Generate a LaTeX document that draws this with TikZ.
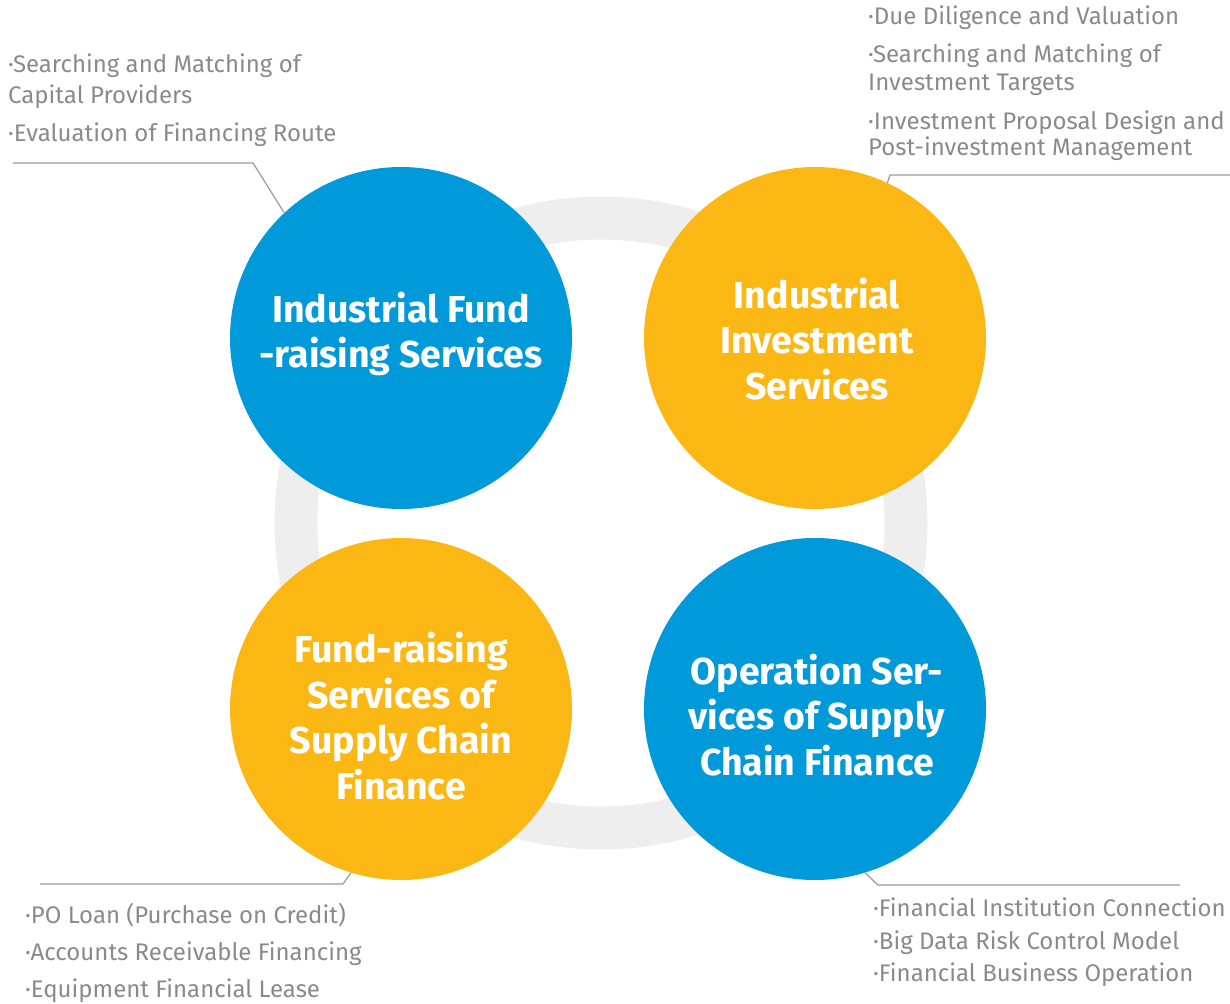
\documentclass[tikz,border=0pt]{standalone}
\usepackage{fontspec}
\setmainfont{Fira Sans}
\definecolor{cblue}{HTML}{0099D9}
\definecolor{cyellow}{HTML}{FBB815}
\definecolor{ring}{HTML}{EEEEEE}
\definecolor{txt}{HTML}{8A8A8E}
\definecolor{lead}{HTML}{9A9A9A}
\begin{document}
\begin{tikzpicture}[x=1pt,y=-1pt,
  bigc/.style={circle,minimum size=342pt,inner sep=0pt},
  ctext/.style={text=white,align=center,font=\fontsize{37.5}{45.5}\selectfont\bfseries},
  item/.style={anchor=base west,inner sep=0pt,text=txt,font=\fontsize{24}{28}\selectfont},
  leader/.style={draw=lead,line width=1.2pt}]
\useasboundingbox (0,0) rectangle (1230,1003);
% grey ring
\node[circle,draw=ring,line width=43pt,minimum size=610pt,inner sep=0pt] (ringc) at (601,523) {};
% circles
\node[bigc,fill=cblue] (fund) at (401,338) {};
\node[bigc,fill=cyellow] (invest) at (815,338) {};
\node[bigc,fill=cyellow] (scfund) at (401,709) {};
\node[bigc,fill=cblue] (scop) at (815,709) {};
% circle texts
\node[ctext] (fundt) at (401,334) {Industrial Fund\\-raising Services};
\node[ctext] (investt) at (817,339) {Industrial\\Investment\\Services};
\node[ctext] (scfundt) at (401,716) {Fund-raising\\Services of\\Supply Chain\\Finance};
\node[ctext] (scopt) at (817,715) {Operation Ser-\\vices of Supply\\Chain Finance};
% top-left items
\node[item] (a1) at (8,73) {·Searching and Matching of};
\node[item] (a2) at (8,104) {Capital Providers};
\node[item] (a3) at (8,142) {·Evaluation of Financing Route};
% top-right items
\node[item] (b1) at (868,25) {·Due Diligence and Valuation};
\node[item] (b2) at (868,63) {·Searching and Matching of};
\node[item] (b3) at (868,91) {Investment Targets};
\node[item] (b4) at (868,130) {·Investment Proposal Design and};
\node[item] (b5) at (868,156) {Post-investment Management};
% bottom-left items
\node[item] (c1) at (25,923) {·PO Loan (Purchase on Credit)};
\node[item] (c2) at (25,960) {·Accounts Receivable Financing};
\node[item] (c3) at (25,997) {·Equipment Financial Lease};
% bottom-right items
\node[item] (d1) at (873,916) {·Financial Institution Connection};
\node[item] (d2) at (873,949) {·Big Data Risk Control Model};
\node[item] (d3) at (873,981) {·Financial Business Operation};
% leaders
\coordinate (la) at (13,163);
\coordinate (lb) at (1230,175);
\coordinate (lc) at (40,884);
\coordinate (ld) at (1180,885);
\draw[leader] (la) -- (253,163) -- (fund.133.4);
\draw[leader] (lb) -- (890,175) -- (invest.65.7);
\draw[leader] (lc) -- (343,884) -- (scfund.253);
\draw[leader] (ld) -- (878,885) -- (scop.287);
\end{tikzpicture}
\end{document}
